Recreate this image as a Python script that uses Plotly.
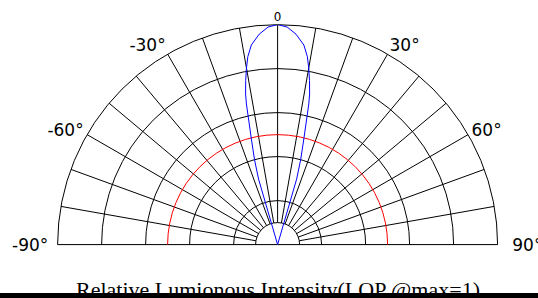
import plotly.graph_objects as go

# ---- data ----
beam_angles = [-17, -16.2, -15.2, -14, -12.5, -12, -11, -10, -9, -7.5, -5, -2.5, 0,
               2.5, 5, 7.5, 9, 10, 11, 12, 12.5, 14, 15.2, 16.2, 17]
beam_intensity = [0, 0.31, 0.40, 0.49, 0.655, 0.70, 0.76, 0.815, 0.865, 0.915, 0.96, 0.99, 1.0,
                  0.99, 0.96, 0.915, 0.865, 0.815, 0.76, 0.70, 0.655, 0.49, 0.40, 0.31, 0]
spoke_angles = [-80, -70, -60, -50, -40, -30, -20, -10, 0, 10, 20, 30, 40, 50, 60, 70, 80]
spoke_inner = 0.1
spoke_outer = 1.0
base_angles = [-90, 0, 90]
base_r = [1.0, 0.0, 1.0]
ring_radii = [0.1, 0.2, 0.4, 0.6, 0.8]
half_power = [0.5]
angle_ticks = [-90, -60, -30, 0, 30, 60, 90]
angle_labels = ["-90°\u00a0", "-60°", "-30°", "<sub>0</sub>", "30°", "60°", "\u00a0\u00a090°"]
radial_ticks = [-1.0, -0.8, -0.6, -0.4, -0.2, 0.2, 0.4, 0.6, 0.8, 1.0]
radial_labels = ["1.0", "0.8", "0.6", "0.4", "0.2", "0.2", "0.4", "0.6", "0.8", "1.0"]
title_text = "Relative Lumionous Intensity(LOP @max=1)"

W, H = 538, 298
cx, cy, R = 277.6, 244.6, 220.0
dom_x = [(cx - R) / W, (cx + R) / W]
dom_y = [(H - cy) / H, (H - cy + R) / H]
title_mid_y = 289
bar_top = 293

sp_r, sp_t = [], []
for a in spoke_angles:
    sp_r += [spoke_inner, spoke_outer, None]
    sp_t += [a, a, None]

fig = go.Figure()
fig.add_trace(go.Scatterpolar(r=sp_r, theta=sp_t, mode="lines", subplot="polar",
                              line=dict(color="black", width=1), hoverinfo="skip", showlegend=False))
fig.add_trace(go.Scatterpolar(r=base_r, theta=base_angles, mode="lines", subplot="polar",
                              line=dict(color="black", width=1), hoverinfo="skip", showlegend=False))
fig.add_trace(go.Scatterpolar(r=beam_intensity, theta=beam_angles, mode="lines", subplot="polar2",
                              line=dict(color="#0000ff", width=1), showlegend=False))

common_ang = dict(rotation=90, direction="clockwise")
fig.update_layout(
    width=W, height=H, margin=dict(l=0, r=0, t=0, b=0),
    paper_bgcolor="white", plot_bgcolor="rgba(0,0,0,0)",
    polar=dict(
        domain=dict(x=dom_x, y=dom_y), sector=[0, 180], bgcolor="rgba(0,0,0,0)",
        radialaxis=dict(range=[0, 1], tickmode="array", tickvals=ring_radii, showticklabels=False,
                        ticks="", showline=False, showgrid=True, gridcolor="black", gridwidth=1),
        angularaxis=dict(**common_ang, tickmode="array", tickvals=angle_ticks, ticktext=angle_labels,
                         showgrid=False, showline=True, linecolor="black", linewidth=1,
                         ticks="",
                         tickfont=dict(family="DejaVu Sans", size=17, color="black")),
    ),
    polar2=dict(
        domain=dict(x=dom_x, y=dom_y), sector=[0, 180], bgcolor="rgba(0,0,0,0)",
        radialaxis=dict(range=[0, 1], tickmode="array", tickvals=half_power, showticklabels=False,
                        ticks="", showline=False, showgrid=True, gridcolor="#ff0000", gridwidth=1),
        angularaxis=dict(**common_ang, showgrid=False, showline=False, showticklabels=False, ticks=""),
    ),
    xaxis=dict(domain=dom_x, range=[-1, 1], anchor="y", tickmode="array", tickvals=radial_ticks,
               ticktext=radial_labels, showgrid=False, zeroline=False, showline=False,
               ticks="outside", ticklen=1, tickcolor="rgba(0,0,0,0)",
               tickfont=dict(family="Liberation Serif", size=11, color="black"), fixedrange=True),
    yaxis=dict(domain=dom_y, range=[0, 1], visible=False, fixedrange=True),
    annotations=[dict(text=title_text, xref="paper", yref="paper", x=sum(dom_x) / 2,
                      y=(H - title_mid_y) / H, yanchor="middle", xanchor="center", showarrow=False,
                      font=dict(family="Liberation Serif", size=22, color="black"))],
    shapes=[dict(type="rect", xref="paper", yref="paper", x0=0, x1=1, y0=0, y1=(H - bar_top) / H,
                 fillcolor="black", line=dict(width=0), layer="above")],
)
fig.write_html("out.html", config={"displayModeBar": False, "staticPlot": True},
               post_script="document.body.style.margin='0';")
